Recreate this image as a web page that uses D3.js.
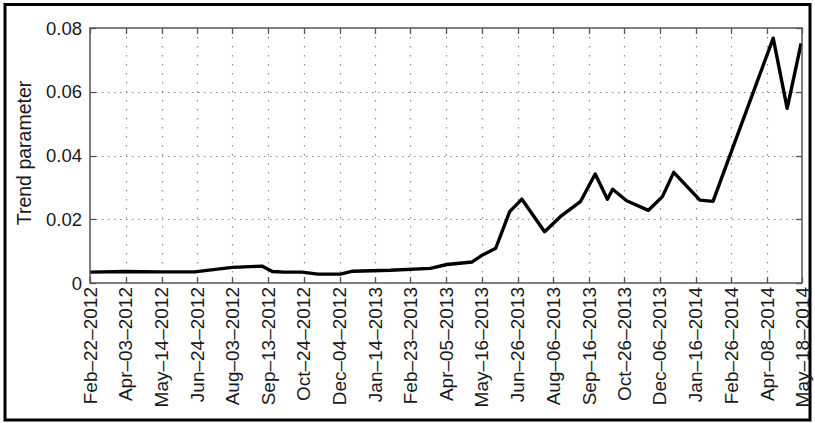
<!DOCTYPE html>
<html>
<head>
<meta charset="utf-8">
<script src="https://cdn.jsdelivr.net/npm/d3@7"></script>
<style>
  html, body { margin: 0; padding: 0; background: #fff; }
  svg { display: block; }
  text { font-family: "Liberation Sans", Arial, Helvetica, sans-serif; fill: #1a1a1a; }
</style>
</head>
<body>
<svg id="chart" width="815" height="423"></svg>
<script>
// Trend parameter estimates, sampled on the dates below
const dates = ["2012-02-22","2012-04-02","2012-05-12","2012-06-21","2012-08-03","2012-09-06",
  "2012-09-18","2012-10-02","2012-10-22","2012-11-09","2012-12-05","2012-12-19","2013-01-31",
  "2013-03-18","2013-04-06","2013-05-05","2013-05-17","2013-06-01","2013-06-17","2013-07-01",
  "2013-07-27","2013-08-14","2013-09-06","2013-09-23","2013-10-07","2013-10-13","2013-10-29",
  "2013-11-23","2013-12-09","2013-12-22","2014-01-21","2014-02-05","2014-04-15","2014-05-01",
  "2014-05-17"];
const trend = [0.0034,0.0036,0.0035,0.0035,0.0049,0.0053,
  0.0036,0.0034,0.0034,0.0028,0.0028,0.0037,0.0040,
  0.0046,0.0058,0.0066,0.0088,0.0109,0.0224,0.0263,
  0.0161,0.0208,0.0255,0.0342,0.0263,0.0294,0.0258,
  0.0228,0.0271,0.0347,0.0260,0.0256,0.0768,0.0548,
  0.0752];

// x-axis tick dates and their labels
const tickDates = ["2012-02-22","2012-04-03","2012-05-14","2012-06-24","2012-08-03","2012-09-13",
  "2012-10-24","2012-12-04","2013-01-14","2013-02-23","2013-04-05","2013-05-16","2013-06-26",
  "2013-08-06","2013-09-16","2013-10-26","2013-12-06","2014-01-16","2014-02-26","2014-04-08",
  "2014-05-18"];
const tickLabels = ["Feb–22–2012","Apr–03–2012","May–14–2012","Jun–24–2012","Aug–03–2012",
  "Sep–13–2012","Oct–24–2012","Dec–04–2012","Jan–14–2013","Feb–23–2013","Apr–05–2013",
  "May–16–2013","Jun–26–2013","Aug–06–2013","Sep–16–2013","Oct–26–2013","Dec–06–2013",
  "Jan–16–2014","Feb–26–2014","Apr–08–2014","May–18–2014"];
const yTicks = [0, 0.02, 0.04, 0.06, 0.08];
const yTickLabels = ["0", "0.02", "0.04", "0.06", "0.08"];

const parse = d3.utcParse("%Y-%m-%d");
const data = dates.map((d, i) => ({ date: parse(d), value: trend[i] }));
const tickPos = tickDates.map(parse);

const svg = d3.select("#chart");
const plot = { left: 90, right: 802, top: 28, bottom: 283 };

const x = d3.scaleUtc()
  .domain([parse("2012-02-22"), parse("2014-05-18")])
  .range([plot.left, plot.right]);
const y = d3.scaleLinear()
  .domain([0, 0.08])
  .range([plot.bottom, plot.top]);

// outer frame
svg.append("rect")
  .attr("x", 5).attr("y", 4.5).attr("width", 805).attr("height", 415.5)
  .attr("fill", "none").attr("stroke", "#000").attr("stroke-width", 3);

// dotted grid
const grid = svg.append("g").attr("stroke", "#8a8a8a").attr("stroke-width", 1.2);
grid.selectAll("line.v").data(tickPos.slice(1, -1)).join("line")
  .attr("class", "v")
  .attr("x1", d => Math.round(x(d)) + 0.5).attr("x2", d => Math.round(x(d)) + 0.5)
  .attr("y1", plot.top).attr("y2", plot.bottom)
  .attr("stroke-dasharray", "1.5,7.5");
grid.selectAll("line.h").data(yTicks.slice(1, -1)).join("line")
  .attr("class", "h")
  .attr("x1", plot.left).attr("x2", plot.right)
  .attr("y1", d => Math.round(y(d)) + 0.5).attr("y2", d => Math.round(y(d)) + 0.5)
  .attr("stroke-dasharray", "1.5,4.5");

// inward ticks on all four sides
const tickLen = 6;
const ticks = svg.append("g").attr("stroke", "#555").attr("stroke-width", 1.3);
tickPos.forEach(d => {
  const px = Math.round(x(d)) + 0.5;
  ticks.append("line").attr("x1", px).attr("x2", px).attr("y1", plot.bottom).attr("y2", plot.bottom - tickLen);
  ticks.append("line").attr("x1", px).attr("x2", px).attr("y1", plot.top).attr("y2", plot.top + tickLen);
});
yTicks.forEach(v => {
  const py = Math.round(y(v)) + 0.5;
  ticks.append("line").attr("x1", plot.left).attr("x2", plot.left + tickLen).attr("y1", py).attr("y2", py);
  ticks.append("line").attr("x1", plot.right).attr("x2", plot.right - tickLen).attr("y1", py).attr("y2", py);
});

// trend line
const line = d3.line().x(d => x(d.date)).y(d => y(d.value));
svg.append("path").datum(data)
  .attr("d", line)
  .attr("fill", "none")
  .attr("stroke", "#000")
  .attr("stroke-width", 3.4)
  .attr("stroke-linejoin", "round");

// axes box
svg.append("rect")
  .attr("x", plot.left).attr("y", plot.top)
  .attr("width", plot.right - plot.left).attr("height", plot.bottom - plot.top)
  .attr("fill", "none").attr("stroke", "#555").attr("stroke-width", 1.5);

// y tick labels
svg.append("g").selectAll("text").data(yTicks).join("text")
  .attr("x", plot.left - 8)
  .attr("y", d => y(d))
  .attr("dy", "0.36em")
  .attr("text-anchor", "end")
  .attr("font-size", 18.5)
  .text((d, i) => yTickLabels[i]);

// x tick labels, rotated
svg.append("g").selectAll("text").data(tickPos).join("text")
  .attr("transform", d => `translate(${x(d) + 6.5},${plot.bottom + 4}) rotate(-90)`)
  .attr("text-anchor", "end")
  .attr("font-size", 19)
  .text((d, i) => tickLabels[i]);

// y axis title
svg.append("text")
  .attr("transform", `translate(31,${153}) rotate(-90)`)
  .attr("text-anchor", "middle")
  .attr("font-size", 19.5)
  .text("Trend parameter");
</script>
</body>
</html>
